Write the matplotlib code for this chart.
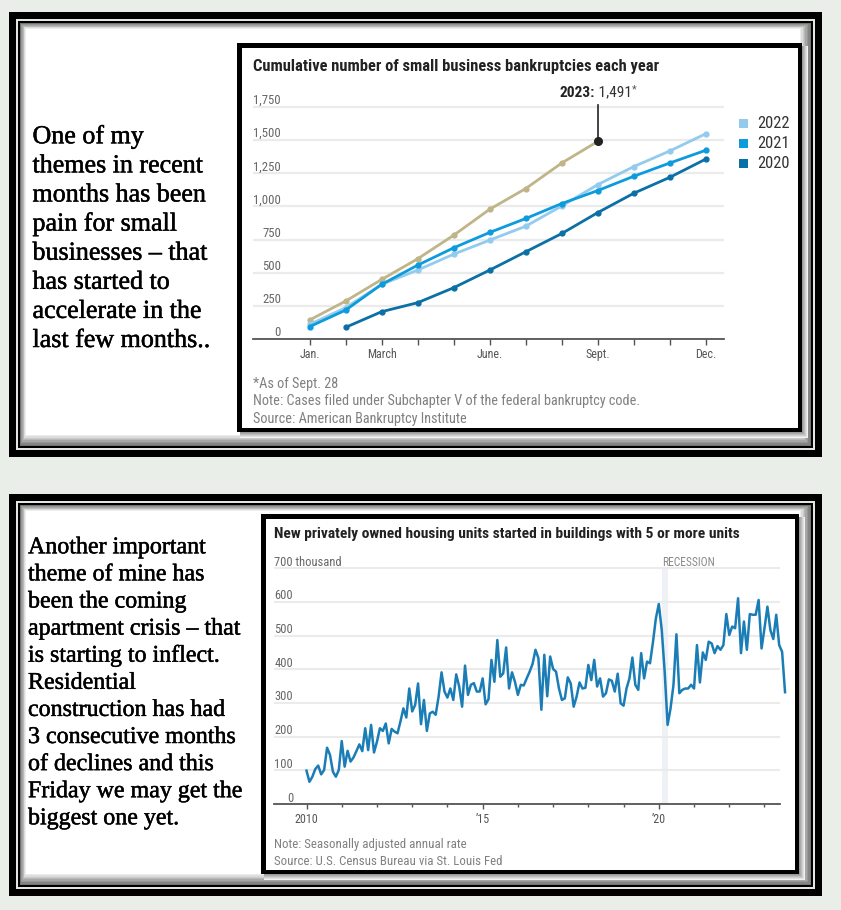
import matplotlib
matplotlib.use('Agg')
import matplotlib.pyplot as plt
from matplotlib.patches import Rectangle
from matplotlib.transforms import offset_copy, blended_transform_factory
from matplotlib import font_manager as fm
import matplotlib.patheffects as pe
import numpy as np

# ---------------- data : chart 1 ----------------
month_labels = ['Jan.', '', 'March', '', '', 'June.', '', '', 'Sept.', '', '', 'Dec.']
y2023 = [143, 286, 449, 605, 783, 979, 1135, 1328, 1491]
y2022 = [110, 236, 412, 520, 640, 746, 851, 1004, 1165, 1301, 1419, 1549]
y2021 = [93, 218, 412, 557, 688, 804, 909, 1022, 1120, 1228, 1328, 1424]
y2020 = [88, 206, 274, 387, 520, 658, 796, 954, 1100, 1220, 1358]   # Feb..Dec
yticks1 = [0, 250, 500, 750, 1000, 1250, 1500, 1750]
legend_years = ['2022', '2021', '2020']

# ---------------- data : chart 2 (thousand units, monthly from Jan 2010) ----------------
s2010 = [99, 66, 81, 104, 114, 88, 101, 167, 146, 96, 81, 101]
s2011 = [187, 111, 158, 126, 138, 157, 177, 157, 225, 160, 235, 153]
s2012 = [185, 225, 217, 239, 180, 223, 215, 210, 245, 284, 257, 343]
s2013 = [275, 294, 358, 237, 309, 217, 269, 274, 265, 319, 391, 334]
s2014 = [316, 343, 309, 385, 349, 289, 411, 324, 354, 359, 334, 334]
s2015 = [373, 296, 311, 428, 363, 487, 378, 388, 465, 343, 391, 363]
s2016 = [324, 354, 352, 373, 393, 416, 458, 433, 280, 443, 320, 438]
s2017 = [401, 393, 343, 309, 314, 376, 358, 289, 319, 361, 343, 345]
s2018 = [413, 368, 428, 349, 373, 319, 329, 370, 366, 334, 387, 299]
s2019 = [292, 343, 373, 435, 354, 339, 448, 373, 423, 418, 480, 551]
s2020 = [594, 517, 393, 235, 284, 354, 504, 329, 339, 343, 343, 354]
s2021 = [343, 472, 361, 450, 428, 482, 477, 448, 469, 458, 472, 564]
s2022 = [502, 527, 522, 611, 448, 542, 458, 564, 562, 562, 606, 462]
s2023 = [522, 586, 517, 490, 562, 472, 452, 332]
yticks2 = [0, 100, 200, 300, 400, 500, 600, 700]
year_ticks = list(range(2010, 2024))
year_labels = {2010: '2010', 2015: '\u201915', 2020: '\u201920'}
recession = (2020 + 1 / 12, 2020 + 3 / 12)

text_top = ['One of my', 'themes in recent', 'months has been', 'pain for small',
            'businesses \u2013 that', 'has started to', 'accelerate in the', 'last few months..']
text_bottom = ['Another important', 'theme of mine has', 'been the coming',
               'apartment crisis \u2013 that', 'is starting to inflect.', 'Residential',
               'construction has had', '3 consecutive months', 'of declines and this',
               'Friday we may get the', 'biggest one yet.']

# ---------------- fonts ----------------
def choose_sans():
    names = {f.name for f in fm.fontManager.ttflist}
    for n in ['Liberation Sans Narrow', 'Roboto Condensed', 'Open Sans Condensed',
              'Noto Sans Condensed', 'DejaVu Sans Condensed']:
        if n in names:
            return n, 'normal'
    for f in fm.fontManager.ttflist:
        if f.name in ('Roboto', 'Noto Sans', 'Open Sans', 'Inter') and \
                f.stretch in ('condensed', 'semi-condensed', 'extra-condensed', 'ultra-condensed'):
            return f.name, f.stretch
    for n in ['Roboto', 'Lato', 'Liberation Sans']:
        if n in names:
            return n, 'normal'
    return 'DejaVu Sans', 'normal'

SANS, STRETCH = choose_sans()
names_all = {f.name for f in fm.fontManager.ttflist}
SERIF = 'Liberation Serif' if 'Liberation Serif' in names_all else 'DejaVu Serif'
SK = dict(family=SANS, stretch=STRETCH)

W, H = 841, 910
fig = plt.figure(figsize=(W / 100, H / 100), dpi=100)
fig.patch.set_facecolor('#e9eee8')
renderer = fig.canvas.get_renderer()

def fx(x):
    return x / W

def fy(y):
    return 1 - y / H

def rect(x0, y0, x1, y1, color, z=-5):
    r = Rectangle((fx(x0), fy(y1)), (x1 - x0) / W, (y1 - y0) / H, transform=fig.transFigure,
                  facecolor=color, edgecolor='none', zorder=z)
    fig.add_artist(r)

def measure(s, size, **kw):
    t = fig.text(0, 0, s, fontsize=size, **kw)
    w = t.get_window_extent(renderer).width
    t.remove()
    return w

def fitsize(s, width, **kw):
    return 10 * width / measure(s, 10, **kw)

def ftext(x, y, s, size, ha='left', va='baseline', **kw):
    return fig.text(fx(x), fy(y), s, fontsize=size, ha=ha, va=va, **kw)

def panel(x0, y0, x1, y1):
    rect(x0, y0, x1, y1, '#000000', z=-10)
    rect(x0 + 7, y0 + 7, x1 - 7, y1 - 7, '#e2e7e2', z=-9.9)
    rect(x0 + 9, y0 + 9, x1 - 9, y1 - 9, '#000000', z=-9.8)
    ix0, iy0, ix1, iy1 = x0 + 11, y0 + 11, x1 - 11, y1 - 11
    levels = np.linspace(0.45, 1.0, 9)
    for k, lv in enumerate(levels):
        rect(ix0 + k * 0.7, iy0 + k * 0.7, ix1 - k * 1.4, iy1 - k * 1.4, str(lv), z=-9.7 + k * 0.01)

def chartbox(x0, y0, x1, y1, bw=4.5):
    for k, lv in zip(range(6, 0, -1), np.linspace(0.95, 0.6, 6)):
        rect(x0 + 3, y0 + 3, x1 + k, y1 + k, str(lv), z=-9.0)
    rect(x0, y0, x1, y1, '#000000', z=-8.9)
    rect(x0 + bw, y0 + bw, x1 - bw, y1 - bw, '#ffffff', z=-8.8)

# ---------------- frames ----------------
panel(9, 12, 822, 457)
panel(9, 494, 822, 896)
chartbox(237, 43, 802, 432)
chartbox(261, 514, 799, 874)

# ---------------- left texts ----------------
thick = [pe.withStroke(linewidth=0.35, foreground='#000000')]
st = fitsize('months has been', 173.5, family=SERIF)
for i, line in enumerate(text_top):
    ftext(32.5, 143.3 + 29.1 * i, line, st, family=SERIF, color='#000000', path_effects=thick)
sb = fitsize('apartment crisis \u2013 that', 213, family=SERIF)
for i, line in enumerate(text_bottom):
    ftext(28, 553.3 + 27.1 * i, line, sb, family=SERIF, color='#000000', path_effects=thick)

# ---------------- chart 1 ----------------
c2023, c2022, c2021, c2020 = '#bfb588', '#93cbee', '#0c9bdc', '#0b70a6'
ax1 = fig.add_axes([fx(253), fy(339), 471 / W, (339 - 95) / H])
ax1.set_xlim(-(309.6 - 253) / 36.04, 11 + (724 - 706) / 36.04)
ax1.set_ylim(0, 1750 * (339 - 95) / 232)
ax1.patch.set_visible(False)
for s in ['top', 'left', 'right']:
    ax1.spines[s].set_visible(False)
ax1.spines['bottom'].set_color('#555555')
ax1.spines['bottom'].set_linewidth(1.3)
ax1.set_yticks(yticks1)
ax1.tick_params(axis='y', length=0, labelleft=False)
ax1.grid(axis='y', color='#ebebeb', lw=1.6)
ax1.set_axisbelow(True)
ax1.set_xticks(range(12))
ax1.tick_params(axis='x', length=4.3, width=1, color='#555555', labelbottom=False)

ax1.plot(range(9), y2023, color=c2023, lw=2, marker='o', ms=3.5, clip_on=False, zorder=3)
ax1.plot(range(12), y2022, color=c2022, lw=2, marker='o', ms=3.5, clip_on=False, zorder=3.1)
ax1.plot(range(12), y2021, color=c2021, lw=2, marker='o', ms=3.5, clip_on=False, zorder=3.2)
ax1.plot(range(1, 12), y2020, color=c2020, lw=2, marker='o', ms=3.5, clip_on=False, zorder=3.3)
ax1.plot([8, 8], [y2023[-1], 1765], color='#222222', lw=1.2, zorder=4)
ax1.plot([8], [y2023[-1]], 'o', color='#222222', ms=5.5, zorder=4.1)

yts = fitsize('1,750', 27.5, **SK)
tr = offset_copy(ax1.get_yaxis_transform(), fig=fig, x=0, y=3, units='dots')
for v in yticks1:
    ax1.text((281 - 253) / 471, v, f'{v:,}', transform=tr, ha='right', va='baseline',
             fontsize=yts, color='#666666', **SK)
xts = fitsize('March', 30, **SK)
btr = blended_transform_factory(ax1.transData, fig.transFigure)
for i, lab in enumerate(month_labels):
    if lab:
        ax1.text(i, fy(358), lab, transform=btr, ha='center', va='baseline',
                 fontsize=xts, color='#555555', **SK)

title1 = 'Cumulative number of small business bankruptcies each year'
ts1 = fitsize(title1, 407, weight='bold', **SK)
ftext(253, 71, title1, ts1, weight='bold', color='#222222', **SK)

# annotation 2023: 1,491*
asz = fitsize('2023: 1,491*', 76.8, **SK)
w1 = measure('2023:', asz, weight='bold', **SK)
w2 = measure(' 1,491', asz, **SK)
w3 = measure('*', asz * 0.7, **SK)
sept_px = ax1.transData.transform((8, 0))[0]
x0 = sept_px - (w1 + w2 + w3) / 2
ftext(x0, 96.7, '2023:', asz, weight='bold', color='#222222', **SK)
ftext(x0 + w1, 96.7, ' 1,491', asz, color='#333333', **SK)
ftext(x0 + w1 + w2, 92, '*', asz * 0.7, color='#555555', **SK)

# legend
lsz = fitsize('2022', 32, **SK)
for i, (yr, col) in enumerate(zip(legend_years, [c2022, c2021, c2020])):
    yb = 128.3 + 19.9 * i
    rect(739, yb - 9, 748, yb, col, z=2)
    ftext(757, yb, yr, lsz, color='#333333', **SK)

note1 = 'Note: Cases filed under Subchapter V of the federal bankruptcy code.'
fsz = fitsize(note1, 384.6, **SK)
ftext(253, 387.7, '*As of Sept. 28', fsz, color='#808080', **SK)
ftext(253, 405, note1, fsz, color='#808080', **SK)
ftext(253, 422.7, 'Source: American Bankruptcy Institute', fsz, color='#808080', **SK)

# ---------------- chart 2 ----------------
starts = s2010 + s2011 + s2012 + s2013 + s2014 + s2015 + s2016 + s2017 + s2018 + s2019 + s2020 + s2021 + s2022 + s2023
dates = [2010 + i / 12 for i in range(len(starts))]
ppy = 35.23
ax2 = fig.add_axes([fx(274), fy(804), (780 - 274) / W, (804 - 560) / H])
ax2.set_xlim(2010 - (306.5 - 274) / ppy, 2010 + (780 - 306.5) / ppy)
ax2.set_ylim(0, 700 * (804 - 560) / (804 - 568.3))
ax2.patch.set_visible(False)
for s in ['top', 'left', 'right']:
    ax2.spines[s].set_visible(False)
ax2.spines['bottom'].set_color('#555555')
ax2.spines['bottom'].set_linewidth(1.3)
ax2.set_yticks(yticks2)
ax2.tick_params(axis='y', length=0, labelleft=False)
ax2.grid(axis='y', color='#ebebeb', lw=1.5)
ax2.set_axisbelow(True)
ax2.set_xticks([y for y in year_ticks if y in year_labels])
ax2.set_xticks([y for y in year_ticks if y not in year_labels], minor=True)
ax2.tick_params(axis='x', which='major', length=3.5, width=1, color='#555555', labelbottom=False)
ax2.tick_params(axis='x', which='minor', length=2, width=1, color='#555555', labelbottom=False)
ylim2 = ax2.get_ylim()[1]
ax2.axvspan(recession[0], recession[1], ymin=0, ymax=700 / ylim2, color='#eef1f5', lw=0, zorder=0.3)
ax2.plot(dates, starts, color='#1a7db5', lw=1.8, clip_on=False, zorder=3)

y2s = fitsize('600', 18.3, **SK)
tr2 = offset_copy(ax2.get_yaxis_transform(), fig=fig, x=0, y=2.5, units='dots')
for v in yticks2:
    if v == 700:
        ax2.text(0, v, '700 thousand', transform=tr2, ha='left', va='baseline',
                 fontsize=y2s, color='#666666', **SK)
    else:
        ax2.text((293 - 274) / 506, v, f'{v}', transform=tr2, ha='right', va='baseline',
                 fontsize=y2s, color='#666666', **SK)
tr3 = offset_copy(ax2.transData, fig=fig, x=0, y=2.5, units='dots')
ax2.text(recession[0], 700, 'RECESSION', transform=tr3, ha='left', va='baseline',
         fontsize=fitsize('RECESSION', 53, **SK), color='#8a8a8a', **SK)
btr2 = blended_transform_factory(ax2.transData, fig.transFigure)
yls = fitsize('2010', 23.4, **SK)
for yv, lab in year_labels.items():
    ax2.text(yv, fy(823.3), lab, transform=btr2, ha='center', va='baseline',
             fontsize=yls, color='#555555', **SK)

title2 = 'New privately owned housing units started in buildings with 5 or more units'
ts2 = fitsize(title2, 466, weight='bold', **SK)
ftext(274, 538.3, title2, ts2, weight='bold', color='#222222', **SK)
src2 = 'Source: U.S. Census Bureau via St. Louis Fed'
n2 = fitsize(src2, 227.6, **SK)
ftext(274, 848.3, 'Note: Seasonally adjusted annual rate', n2, color='#808080', **SK)
ftext(274, 865, src2, n2, color='#808080', **SK)

fig.savefig('out.png', dpi=100, facecolor=fig.get_facecolor())
